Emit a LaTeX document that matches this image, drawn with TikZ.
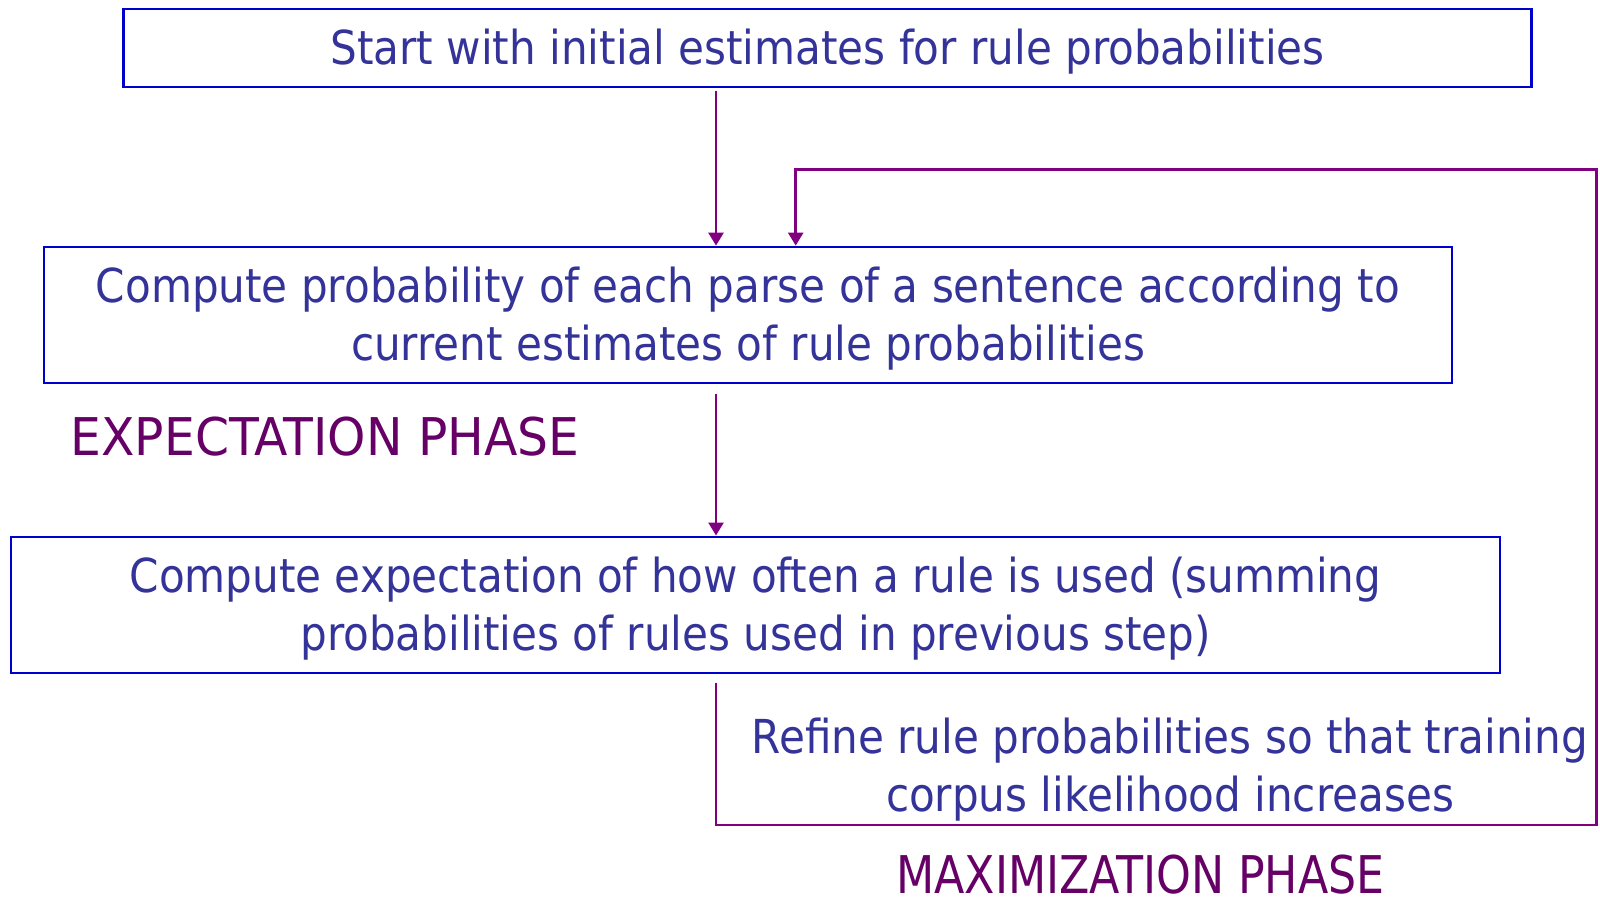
\documentclass[tikz,border=0pt]{standalone}
\usepackage{fontspec}
\setmainfont{DejaVu Sans Condensed}
\usetikzlibrary{arrows.meta}
\definecolor{boxblue}{RGB}{0,0,204}
\definecolor{txtblue}{RGB}{51,51,153}
\definecolor{flowpurple}{RGB}{128,0,128}
\definecolor{phasepurple}{RGB}{102,0,102}
% centred lines, set a little low inside their box
\newcommand\boxlines[1]{\raisebox{-2.5pt}[\height][\depth]{\begin{tabular}{@{}c@{}}#1\end{tabular}}}
\begin{document}
\begin{tikzpicture}[x=0.5pt,y=-0.5pt,
  stepbox/.style={draw=boxblue,line width=1.1pt,inner sep=0pt,
    text=txtblue,font=\fontsize{23.4}{29}\selectfont},
  flow/.style={draw=flowpurple,line width=1.3pt},
  arr/.style={flow,-{Triangle[width=7.5pt,length=6.5pt]}},
  phase/.style={text=phasepurple,inner sep=0pt,font=\fontsize{26}{31}\selectfont}]
\useasboundingbox (0,0) rectangle (1600,900);

% the three process steps
\node[stepbox,minimum width=704pt,minimum height=39pt] (start) at (827.5,47.6)
  {\boxlines{Start with initial estimates for rule probabilities}};
\node[stepbox,minimum width=704pt,minimum height=68pt] (parse) at (748,314.7)
  {\boxlines{Compute probability of each parse of a sentence according to\\current estimates of rule probabilities}};
\node[stepbox,minimum width=744.5pt,minimum height=68pt] (expect) at (755.6,604.6)
  {\boxlines{Compute expectation of how often a rule is used (summing\\probabilities of rules used in previous step)}};

% step labels
\node[align=center,text=txtblue,inner sep=0pt,font=\fontsize{23.4}{29}\selectfont] (refine) at (1170,770)
  {Refine rule probabilities so that training\\corpus likelihood increases};
\node[phase,anchor=west] (ephase) at (70.4,437) {\scalebox{1.042}[1]{EXPECTATION PHASE}};
\node[phase,anchor=base west] (mphase) at (896,893) {\scalebox{0.946}[1]{MAXIMIZATION PHASE}};

% connectors
\coordinate (mainx) at (716,0);
\coordinate (loopx) at (795.7,0);
\coordinate (loopbot) at (1596.5,825);
\coordinate (looptop) at (1596.5,169.3);
\draw[arr,shorten <=1.5pt] (start.south -| mainx) -- (parse.north -| mainx);
\draw[arr,shorten <=5pt] (parse.south -| mainx) -- (expect.north -| mainx);
\draw[arr,shorten <=4.5pt] (expect.south -| mainx) -- (mainx |- loopbot) -- (loopbot)
  -- (looptop) -- (loopx |- looptop) -- (parse.north -| loopx);
\end{tikzpicture}
\end{document}
